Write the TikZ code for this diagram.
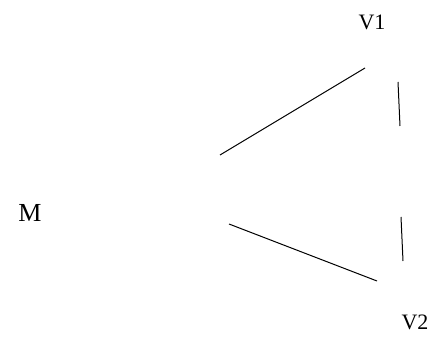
\documentclass[tikz,border=0pt]{standalone}
\usepackage{fontspec}
\setmainfont{Liberation Serif}
\begin{document}
\begin{tikzpicture}[x=1pt,y=-1pt,
  lbl/.style={inner sep=0pt,anchor=center},
  edge/.style={line width=1pt,black}]
\useasboundingbox (0,0) rectangle (432,337);
\node[lbl,font=\fontsize{26}{30}\selectfont] (M) at (30,213) {M};
\node[lbl,font=\fontsize{22}{26}\selectfont] (V1) at (372,22) {V1};
\node[lbl,font=\fontsize{22}{26}\selectfont] (V2) at (415,322) {V2};
\coordinate (a1) at (220,155);
\coordinate (a2) at (365,68);
\coordinate (b1) at (229,224);
\coordinate (b2) at (377,281);
\coordinate (c1) at (398,82);
\coordinate (c2) at (400,126);
\coordinate (d1) at (401,217);
\coordinate (d2) at (403,261);
\draw[edge] (a1) -- (a2);
\draw[edge] (b1) -- (b2);
\draw[edge] (c1) -- (c2);
\draw[edge] (d1) -- (d2);
\end{tikzpicture}
\end{document}
